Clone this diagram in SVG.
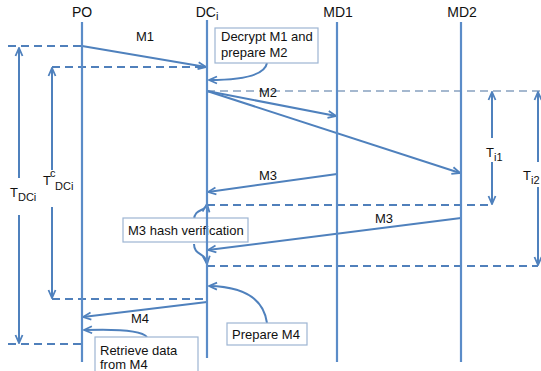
<svg xmlns="http://www.w3.org/2000/svg" width="541" height="371" viewBox="0 0 541 371">
<defs>
<marker id="arr" markerUnits="userSpaceOnUse" markerWidth="10" markerHeight="10" viewBox="0 0 10 10" refX="9" refY="5" orient="auto"><path d="M1,1.5 L9,5 L1,8.5" fill="none" stroke="#4f81bd" stroke-width="1.8"/></marker>
</defs>
<style>
.life{stroke:#5b8cc8;stroke-width:2.2;fill:none}
.msg{stroke:#4f81bd;stroke-width:2;fill:none;marker-end:url(#arr)}
.dash{stroke:#5080bb;stroke-width:2;stroke-dasharray:8 5;fill:none}
.dashl{stroke:#a5b8cf;stroke-width:2;stroke-dasharray:8 5;fill:none}
.box{fill:#fff;stroke:#9db5d3;stroke-width:1.2}
text{font-family:"Liberation Sans",Arial,sans-serif;font-size:13px;fill:#111}
.hd{font-size:14px;text-anchor:middle}
.mid{text-anchor:middle}
.sub{font-size:11px}
</style>
<rect x="0" y="0" width="541" height="371" fill="#fff"/>

<g id="connectors">
<line class="dash" x1="8" y1="46" x2="82" y2="46"/>
<line class="dash" x1="52" y1="67" x2="207" y2="67"/>
<line class="dashl" x1="207" y1="91" x2="541" y2="91"/>
<line class="dash" x1="207" y1="205" x2="492" y2="205"/>
<line class="dash" x1="207" y1="266" x2="538" y2="266"/>
<line class="dash" x1="52" y1="299" x2="207" y2="299"/>
<line class="dash" x1="8" y1="344" x2="82" y2="344"/>

<line class="msg" x1="82" y1="46" x2="206" y2="67"/>
<line class="msg" x1="207" y1="91" x2="336" y2="116"/>
<line class="msg" x1="207" y1="91" x2="460" y2="173"/>
<line class="msg" x1="337" y1="174" x2="208" y2="192"/>
<line class="msg" x1="461" y1="218" x2="208" y2="250"/>
<line class="msg" x1="207" y1="302" x2="83" y2="317"/>

<path class="msg" d="M267 63 Q264 80 209 80"/>
<path class="msg" d="M267 323 Q262 287 209 286"/>
<path class="msg" d="M147 337 Q140 328 84 330"/>
<path class="msg" d="M194 220 C194 208 206 212 207 204"/>
<path class="msg" d="M194 244 C194 256 206 252 207 264"/>

<line class="msg" x1="19" y1="178" x2="19" y2="48"/>
<line class="msg" x1="19" y1="215" x2="19" y2="343"/>
<line class="msg" x1="52" y1="170" x2="52" y2="68"/>
<line class="msg" x1="52" y1="207" x2="52" y2="298"/>
<line class="msg" x1="492" y1="138" x2="492" y2="92"/>
<line class="msg" x1="492" y1="162" x2="492" y2="204"/>
<line class="msg" x1="538" y1="162" x2="538" y2="92"/>
<line class="msg" x1="538" y1="187" x2="538" y2="265"/>

<text class="mid" x="145" y="41">M1</text>
<text class="mid" x="268" y="97">M2</text>
<text class="mid" x="268" y="180">M3</text>
<text class="mid" x="384" y="223">M3</text>
<text class="mid" x="140" y="323">M4</text>
</g>

<g id="timing-labels">
<text x="10" y="197">T<tspan class="sub" dy="4">DCi</tspan></text>
<text x="43" y="185">T<tspan class="sub" x="50" y="177">c</tspan><tspan class="sub" x="55" y="190">DCi</tspan></text>
<text x="486" y="157">T<tspan class="sub" dy="4">i1</tspan></text>
<text x="523" y="180">T<tspan class="sub" dy="4">i2</tspan></text>
</g>

<g id="note-decrypt">
<rect class="box" x="215" y="28" width="103" height="35"/>
<text x="221" y="41">Decrypt M1 and</text>
<text x="221" y="57">prepare M2</text>
</g>
<g id="note-hash">
<rect class="box" x="123" y="218" width="125" height="24"/>
<text x="128" y="235">M3 hash verification</text>
</g>
<g id="note-prepare">
<rect class="box" x="227" y="323" width="80" height="22"/>
<text x="232" y="339">Prepare M4</text>
</g>
<g id="note-retrieve">
<rect class="box" x="95" y="337" width="103" height="40"/>
<text x="100" y="355">Retrieve data</text>
<text x="100" y="369">from M4</text>
</g>

<g id="PO">
<line class="life" x1="82" y1="22" x2="82" y2="362"/>
<text class="hd" x="82" y="17">PO</text>
</g>
<g id="DCi">
<line class="life" x1="207" y1="20" x2="207" y2="358"/>
<text class="hd" x="207" y="17">DC<tspan class="sub" dy="3">i</tspan></text>
</g>
<g id="MD1">
<line class="life" x1="337" y1="22" x2="337" y2="362"/>
<text class="hd" x="338" y="17">MD1</text>
</g>
<g id="MD2">
<line class="life" x1="461" y1="22" x2="461" y2="362"/>
<text class="hd" x="462" y="17">MD2</text>
</g>
</svg>
